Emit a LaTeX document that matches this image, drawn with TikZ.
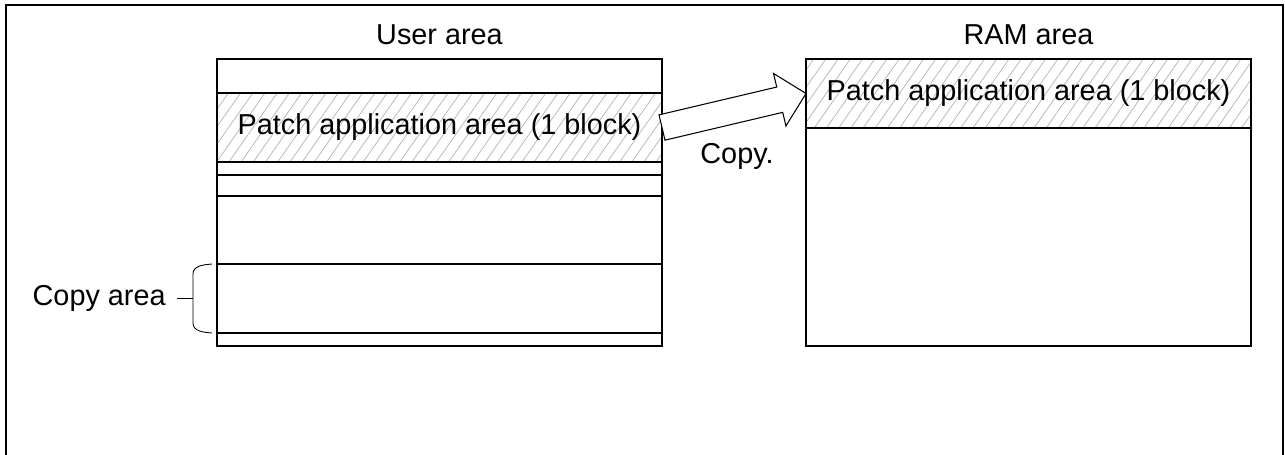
\documentclass[tikz,border=0pt]{standalone}
\usepackage{fontspec}
\setmainfont{Liberation Sans}
\usetikzlibrary{positioning, calc, patterns.meta}

\begin{document}
\begin{tikzpicture}[
  every node/.style={align=center, inner sep=0, font=\fontsize{16.4}{19.7}\selectfont},
  area/.style={draw, line width=0.8pt, minimum width=8.9cm, outer sep=0},
  patch/.style={area, pattern={Lines[angle=55, distance=0.2cm, line width=0.4pt]}, pattern color=gray!60},
  blockarrow/.style={draw, line width=0.6pt, fill=white, line join=miter},
  thin line/.style={line width=0.5pt}
]
\useasboundingbox (0,0) rectangle (25.7,-9.08);
\draw[line width=0.7pt] (0.12,-0.1) rectangle (25.66,-9.6);

\node[area, anchor=north, minimum height=0.68cm] (u0) at (8.79,-1.18) {};
\node[patch, minimum height=1.38cm, below=0pt of u0] (patchU) {Patch application area (1 block)};
\node[area, minimum height=0.26cm, below=0pt of patchU] (u2) {};
\node[area, minimum height=0.42cm, below=0pt of u2] (u3) {};
\node[area, minimum height=1.36cm, below=0pt of u3] (u4) {};
\node[area, minimum height=1.38cm, below=0pt of u4] (u5) {};
\node[area, minimum height=0.26cm, below=0pt of u5] (u6) {};

\node[patch, anchor=north, minimum height=1.38cm] (patchR) at (20.57,-1.18) {Patch application area (1 block)};
\node[area, minimum height=4.36cm, below=0pt of patchR] (r1) {};

\node[anchor=base] (utitle) at ([yshift=0.3cm]u0.north) {User area};
\node[anchor=base] (rtitle) at ([yshift=0.3cm]patchR.north) {RAM area};

\coordinate (ahead) at ($(patchR.west)!0.54cm!(patchU.east)$);
\draw[blockarrow] ($(patchU.east)!0.26cm!90:(patchR.west)$)
  -- ($(ahead)!0.26cm!90:(patchR.west)$)
  -- ($(ahead)!0.54cm!90:(patchR.west)$)
  -- (patchR.west)
  -- ($(ahead)!0.54cm!-90:(patchR.west)$)
  -- ($(ahead)!0.26cm!-90:(patchR.west)$)
  -- ($(patchU.east)!0.26cm!-90:(patchR.west)$) -- cycle;
\node[anchor=base] (copylbl) at ([shift={(1.5,-0.71)}]patchU.east) {Copy.};

\coordinate (brc) at ([xshift=-0.48cm]u5.west);
\draw[thin line] ([xshift=-0.1cm]u5.north west) to[out=185, in=90] ([xshift=-0.48cm, yshift=-0.2cm]u5.north west)
  -- ([xshift=-0.48cm, yshift=0.2cm]u5.south west) to[out=-90, in=175] ([xshift=-0.1cm]u5.south west);
\node[anchor=east, inner xsep=0.22cm] (arealbl) at ([xshift=-0.32cm]brc) {Copy area};
\draw[thin line] (arealbl.east) -- (brc);
\end{tikzpicture}
\end{document}
